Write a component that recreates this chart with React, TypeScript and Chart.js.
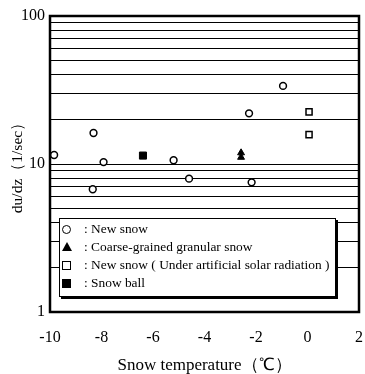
import React, { useEffect, useRef } from 'react';
import { Chart, registerables } from 'chart.js';

Chart.register(...registerables);

// ---- Data ----
const newSnowX = [-9.84, -8.31, -7.92, -8.34, -5.2, -4.6, -2.27, -2.17, -0.95];
const newSnowY = [11.5, 16.2, 10.3, 6.75, 10.6, 7.96, 22.0, 7.52, 33.7];

const coarseX = [-2.58, -2.58];
const coarseY = [11.9, 11.1];

const solarX = [0.06, 0.06];
const solarY = [22.5, 15.8];

const ballX = [-6.39];
const ballY = [11.4];

const xTicks = [-10, -8, -6, -4, -2, 0, 2];
const yGridValues = [1, 2, 3, 4, 5, 6, 7, 8, 9, 10, 20, 30, 40, 50, 60, 70, 80, 90, 100];
const yLabelValues = [1, 10, 100];

const legendLabels = [
  'New snow',
  'Coarse-grained granular snow',
  'New snow ( Under artificial solar radiation )',
  'Snow ball',
];

const xTitle = 'Snow temperature（℃）';
const yTitle = 'du/dz（1/sec）';

const toPoints = (xs: number[], ys: number[]) => xs.map((x, i) => ({ x, y: ys[i] }));

const SERIF = '"Liberation Serif", "Times New Roman", serif';

export default function App() {
  const ref = useRef<HTMLCanvasElement>(null);

  useEffect(() => {
    const framePlugin = {
      id: 'frame',
      beforeDatasetsDraw(chart: any) {
        const { ctx, chartArea: a } = chart;
        ctx.save();
        ctx.lineWidth = 2.5;
        ctx.strokeStyle = '#000';
        ctx.strokeRect(a.left, a.top, a.right - a.left, a.bottom - a.top);
        ctx.restore();
      },
    };

    const chart = new Chart(ref.current as HTMLCanvasElement, {
      type: 'scatter',
      data: {
        datasets: [
          {
            label: legendLabels[0],
            data: toPoints(newSnowX, newSnowY),
            pointStyle: 'circle',
            pointRadius: 3.4,
            borderWidth: 1.5,
            borderColor: '#000',
            backgroundColor: '#fff',
          },
          {
            label: legendLabels[1],
            data: toPoints(coarseX, coarseY),
            pointStyle: 'triangle',
            pointRadius: 4,
            borderWidth: 1,
            borderColor: '#000',
            backgroundColor: '#000',
          },
          {
            label: legendLabels[2],
            data: toPoints(solarX, solarY),
            pointStyle: 'rect',
            pointRadius: 4.3,
            borderWidth: 1.5,
            borderColor: '#000',
            backgroundColor: '#fff',
          },
          {
            label: legendLabels[3],
            data: toPoints(ballX, ballY),
            pointStyle: 'rect',
            pointRadius: 5,
            borderWidth: 1,
            borderColor: '#000',
            backgroundColor: '#000',
          },
        ],
      },
      options: {
        responsive: false,
        animation: false,
        devicePixelRatio: 1,
        layout: { padding: { top: 16, right: 4, left: 0, bottom: 0 } },
        plugins: {
          legend: { display: false },
          tooltip: { enabled: false },
        },
        scales: {
          x: {
            type: 'linear',
            min: -10,
            max: 2,
            afterFit: (s: any) => {
              s.height = 62;
              s.paddingLeft = 0;
              s.paddingRight = 0;
            },
            afterBuildTicks: (s: any) => {
              s.ticks = xTicks.map((v) => ({ value: v }));
            },
            grid: { display: false, drawTicks: false },
            border: { display: false },
            ticks: {
              color: '#000',
              font: { family: SERIF, size: 16 },
              padding: 16,
              maxRotation: 0,
              autoSkip: false,
            },
            title: {
              display: true,
              text: xTitle,
              color: '#000',
              font: { family: SERIF, size: 17, lineHeight: 1 },
              padding: 0,
            },
          },
          y: {
            type: 'logarithmic',
            min: 1,
            max: 100,
            afterFit: (s: any) => {
              s.width = 50;
              s.paddingTop = 0;
              s.paddingBottom = 0;
            },
            afterBuildTicks: (s: any) => {
              s.ticks = yGridValues.map((v) => ({ value: v }));
            },
            grid: { color: '#000', lineWidth: 1, drawTicks: false },
            border: { display: false },
            ticks: {
              color: '#000',
              font: { family: SERIF, size: 16 },
              padding: 5,
              autoSkip: false,
              callback: (v: any) => (yLabelValues.includes(Number(v)) ? String(v) : ''),
            },
            title: {
              display: true,
              text: yTitle,
              color: '#000',
              font: { family: SERIF, size: 15.5, lineHeight: 1 },
              padding: { top: 10, bottom: 0 },
            },
          },
        },
      },
      plugins: [framePlugin],
    } as any);

    return () => chart.destroy();
  }, []);

  const rowCenters = [10, 28, 46, 64];
  const symbol = (i: number) => {
    const base: React.CSSProperties = { position: 'absolute', boxSizing: 'border-box' };
    if (i === 0)
      return <div style={{ ...base, left: 2, top: -4.5, width: 9, height: 9, border: '1px solid #000', borderRadius: '50%' }} />;
    if (i === 1)
      return (
        <div
          style={{
            ...base,
            left: 1.5,
            top: -5,
            width: 0,
            height: 0,
            borderLeft: '5px solid transparent',
            borderRight: '5px solid transparent',
            borderBottom: '9px solid #000',
          }}
        />
      );
    if (i === 2)
      return <div style={{ ...base, left: 2, top: -4.5, width: 9, height: 9, border: '1px solid #000' }} />;
    return <div style={{ ...base, left: 2, top: -4.5, width: 9, height: 9, background: '#000' }} />;
  };

  return (
    <div style={{ position: 'fixed', left: 0, top: 0, width: 365, height: 374, background: '#fff' }}>
      <canvas ref={ref} width={365} height={374} style={{ display: 'block', width: 365, height: 374 }} />
      <div
        style={{
          position: 'absolute',
          left: 59,
          top: 218,
          width: 277,
          height: 79,
          boxSizing: 'border-box',
          border: '1px solid #000',
          boxShadow: '2px 2px 0 #000',
          background: '#fff',
          fontFamily: SERIF,
          fontSize: 13.4,
          color: '#000',
        }}
      >
        {legendLabels.map((lab, i) => (
          <div key={i} style={{ position: 'absolute', left: 0, top: rowCenters[i], width: '100%', height: 0 }}>
            {symbol(i)}
            <span
              style={{
                position: 'absolute',
                left: 24,
                top: -9,
                lineHeight: '18px',
                whiteSpace: 'pre',
              }}
            >
              {': ' + lab}
            </span>
          </div>
        ))}
      </div>
    </div>
  );
}
